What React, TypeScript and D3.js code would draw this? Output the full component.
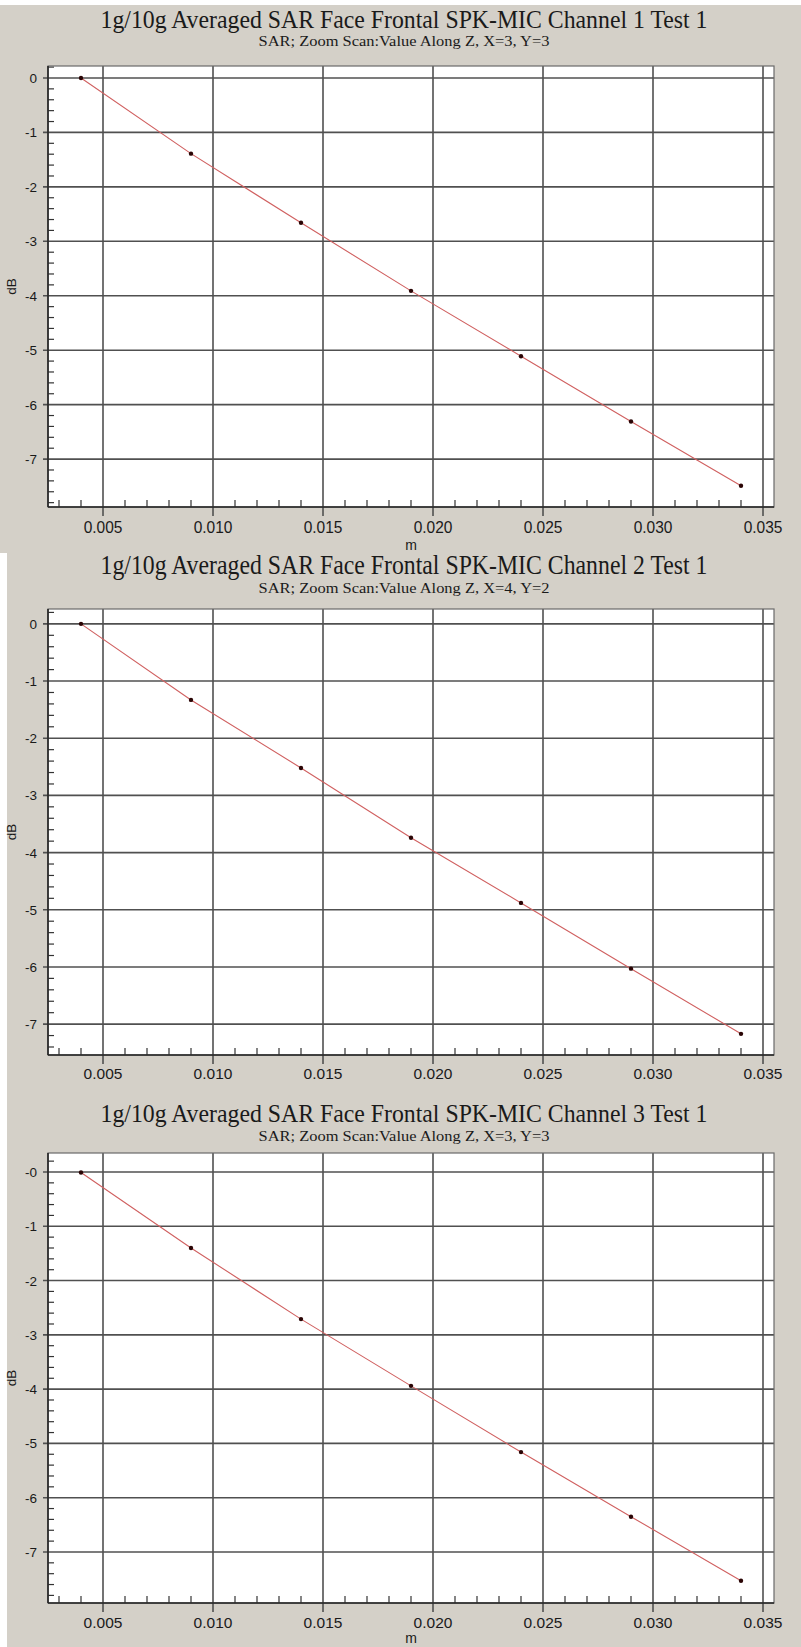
import React from "react";
import * as d3 from "d3";

// ---- data ----
const xPositions = [0.004, 0.009, 0.014, 0.019, 0.024, 0.029, 0.034];
const channel1 = [0, -1.39, -2.66, -3.91, -5.11, -6.31, -7.49];
const channel2 = [0, -1.33, -2.52, -3.74, -4.88, -6.03, -7.17];
const channel3 = [-0.01, -1.4, -2.71, -3.94, -5.16, -6.35, -7.53];

const titles = [
  "1g/10g Averaged SAR Face Frontal SPK-MIC Channel 1 Test 1",
  "1g/10g Averaged SAR Face Frontal SPK-MIC Channel 2 Test 1",
  "1g/10g Averaged SAR Face Frontal SPK-MIC Channel 3 Test 1",
];
const subtitles = [
  "SAR; Zoom Scan:Value Along Z, X=3, Y=3",
  "SAR; Zoom Scan:Value Along Z, X=4, Y=2",
  "SAR; Zoom Scan:Value Along Z, X=3, Y=3",
];
const xTickValues = [0.005, 0.01, 0.015, 0.02, 0.025, 0.03, 0.035];
const xTickLabels = ["0.005", "0.010", "0.015", "0.020", "0.025", "0.030", "0.035"];
const yTickValues = [0, -1, -2, -3, -4, -5, -6, -7];
const yTickLabelsA = ["0", "-1", "-2", "-3", "-4", "-5", "-6", "-7"];
const yTickLabelsB = ["-0", "-1", "-2", "-3", "-4", "-5", "-6", "-7"];
const xAxisTitle = "m";
const yAxisTitle = "dB";

// ---- layout (styles/positions) ----
const W = 801;
const H = 1647;
const BG = "#D4D0C8";
const X_DOMAIN = [0.0025, 0.0355];

type Panel = {
  data: number[];
  title: string;
  subtitle: string;
  yLabels: string[];
  bgX: number;
  bgY0: number;
  bgY1: number;
  titleY: number;
  titleSy: number;
  subY: number;
  subSy: number;
  top: number;
  bottom: number;
  yDomain: [number, number];
  xLabelY: number;
  xLabelSy: number;
  mY: number | null;
};

const panels: Panel[] = [
  {
    data: channel1, title: titles[0], subtitle: subtitles[0], yLabels: yTickLabelsA,
    bgX: 0, bgY0: 5, bgY1: 553,
    titleY: 28, titleSy: 1.05, subY: 46, subSy: 1.0,
    top: 66, bottom: 507, yDomain: [0.22, -7.88],
    xLabelY: 533, xLabelSy: 1.12, mY: 550,
  },
  {
    data: channel2, title: titles[1], subtitle: subtitles[1], yLabels: yTickLabelsA,
    bgX: 7, bgY0: 553, bgY1: 1100,
    titleY: 574, titleSy: 1.1, subY: 593, subSy: 1.03,
    top: 609, bottom: 1055, yDomain: [0.26, -7.54],
    xLabelY: 1079, xLabelSy: 1.0, mY: null,
  },
  {
    data: channel3, title: titles[2], subtitle: subtitles[2], yLabels: yTickLabelsB,
    bgX: 7, bgY0: 1100, bgY1: 1647,
    titleY: 1122, titleSy: 1.05, subY: 1141, subSy: 1.0,
    top: 1153, bottom: 1603, yDomain: [0.35, -7.94],
    xLabelY: 1628, xLabelSy: 1.0, mY: 1643,
  },
];

const LEFT = 48;
const RIGHT = 774;

function SText(props: {
  x: number; y: number; text: string; size: number; family: string;
  anchor?: string; sy?: number; len?: number; fill?: string; rotate?: number;
}) {
  const { x, y, text, size, family, anchor = "middle", sy = 1, len, fill = "#1a1a1a", rotate = 0 } = props;
  return (
    <text
      transform={`translate(${x},${y}) rotate(${rotate}) scale(1,${sy})`}
      textAnchor={anchor}
      fontSize={size}
      fontFamily={family}
      fill={fill}
      textLength={len}
      lengthAdjust={len ? "spacingAndGlyphs" : undefined}
    >
      {text}
    </text>
  );
}

function PanelView({ p }: { p: Panel }) {
  const x = d3.scaleLinear().domain(X_DOMAIN).range([LEFT, RIGHT]);
  const y = d3.scaleLinear().domain(p.yDomain).range([p.top, p.bottom]);

  const xMinor = d3
    .range(3, 36)
    .filter((v) => v % 5 !== 0)
    .map((v) => v / 1000);
  const yMinor = d3
    .range(Math.ceil(p.yDomain[1] * 5), Math.floor(p.yDomain[0] * 5) + 1)
    .filter((v) => v % 5 !== 0)
    .map((v) => v / 5);

  const line = d3
    .line<number>()
    .x((_, i) => x(xPositions[i]))
    .y((d) => y(d));

  const serif = "'Liberation Serif', 'Times New Roman', serif";
  const sans = "'Liberation Sans', Arial, sans-serif";
  const gridColor = "#505050";

  return (
    <g>
      <rect x={p.bgX} y={p.bgY0} width={W - p.bgX} height={p.bgY1 - p.bgY0} fill={BG} />
      <SText x={404} y={p.titleY} text={p.title} size={24} family={serif} sy={p.titleSy} len={607} />
      <SText x={404} y={p.subY} text={p.subtitle} size={15} family={serif} sy={p.subSy} len={291} />

      <rect x={LEFT} y={p.top} width={RIGHT - LEFT} height={p.bottom - p.top} fill="#ffffff" />

      {/* major grid */}
      {xTickValues.map((v) => (
        <line key={"gx" + v} x1={x(v)} x2={x(v)} y1={p.top} y2={p.bottom + 9} stroke={gridColor} strokeWidth={1.6} />
      ))}
      {yTickValues.map((v) => (
        <line key={"gy" + v} x1={LEFT - 5} x2={RIGHT} y1={y(v)} y2={y(v)} stroke={gridColor} strokeWidth={1.6} />
      ))}

      {/* minor ticks */}
      {xMinor.map((v) => (
        <line key={"mx" + v} x1={x(v)} x2={x(v)} y1={p.bottom} y2={p.bottom - 7} stroke="#333" strokeWidth={1.2} />
      ))}
      {yMinor.map((v) => (
        <line key={"my" + v} x1={LEFT} x2={LEFT + 6} y1={y(v)} y2={y(v)} stroke="#333" strokeWidth={1.2} />
      ))}

      {/* frame */}
      <rect x={LEFT} y={p.top} width={RIGHT - LEFT} height={p.bottom - p.top} fill="none" stroke="#6a6a6a" strokeWidth={1.2} />
      <line x1={LEFT} x2={LEFT} y1={p.top} y2={p.bottom} stroke="#222" strokeWidth={1.6} />
      <line x1={LEFT} x2={RIGHT} y1={p.bottom} y2={p.bottom} stroke="#222" strokeWidth={1.6} />

      {/* data */}
      <path d={line(p.data) || ""} fill="none" stroke="#d06060" strokeWidth={1.1} />
      {p.data.map((d, i) => (
        <circle key={"pt" + i} cx={x(xPositions[i])} cy={y(d)} r={2.2} fill="#2a0505" />
      ))}

      {/* tick labels */}
      {xTickValues.map((v, i) => (
        <SText key={"lx" + v} x={x(v)} y={p.xLabelY} text={xTickLabels[i]} size={15.5} family={sans} sy={p.xLabelSy} />
      ))}
      {yTickValues.map((v, i) => (
        <SText key={"ly" + v} x={37} y={y(v) + 5} text={p.yLabels[i]} size={13.5} family={sans} anchor="end" />
      ))}

      <SText x={16} y={(p.top + p.bottom) / 2} text={yAxisTitle} size={13.5} family={sans} rotate={-90} />
      {p.mY !== null && <SText x={411} y={p.mY} text={xAxisTitle} size={14} family={sans} />}
    </g>
  );
}

export default function App() {
  return (
    <svg
      width={W}
      height={H}
      viewBox={`0 0 ${W} ${H}`}
      style={{ position: "absolute", left: 0, top: 0, display: "block" }}
    >
      <rect x={0} y={0} width={W} height={H} fill="#ffffff" />
      {panels.map((p, i) => (
        <PanelView key={i} p={p} />
      ))}
    </svg>
  );
}
